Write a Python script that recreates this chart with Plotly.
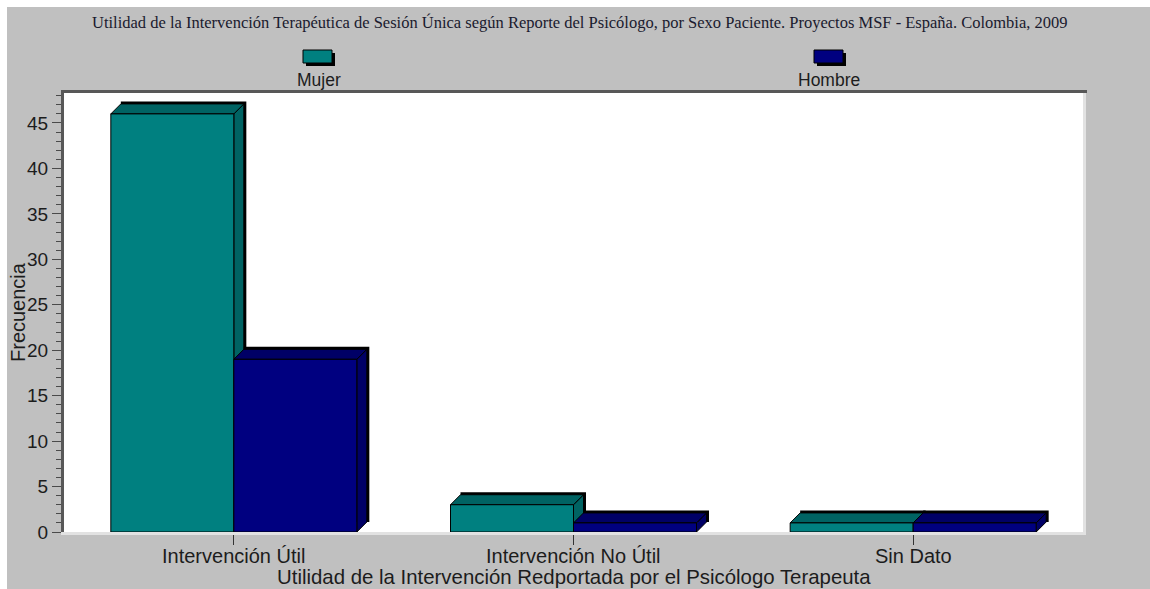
import plotly.graph_objects as go

# --- data -------------------------------------------------------------
categorias = ["Intervención Útil", "Intervención No Útil", "Sin Dato"]
series = ["Mujer", "Hombre"]
mujer = [46, 3, 1]
hombre = [19, 1, 1]
y_ticks = [0, 5, 10, 15, 20, 25, 30, 35, 40, 45]

titulo = ("Utilidad de la Intervención Terapéutica de Sesión Única según Reporte del "
          "Psicólogo, por Sexo Paciente. Proyectos MSF - España. Colombia, 2009")
titulo_x = "Utilidad de la Intervención Redportada por el Psicólogo Terapeuta"
titulo_y = "Frecuencia"

# --- geometry / style -------------------------------------------------
W, H = 1150, 589
M = dict(l=64, r=67, t=93, b=57)
plot_w = W - M["l"] - M["r"]
plot_h = H - M["t"] - M["b"]
y_max = 48.3
x_min, x_max = -0.5, 2.5
ux = plot_w / (x_max - x_min)   # px per x unit
uy = plot_h / y_max             # px per y unit

bar_w = 123 / ux
dx, dy = 10 / ux, 10 / uy       # 3-D depth
sx, sy = 2.5 / ux, 2.5 / uy     # black back edge

BG = "#c0c0c0"
TXT = "#1c1c1c"
FONT = "Liberation Sans, Arial, sans-serif"
colores = {"Mujer": ("#008080", "#006363"), "Hombre": ("#000080", "#000066")}
offsets = {"Mujer": -bar_w, "Hombre": 0.0}
valores = {"Mujer": mujer, "Hombre": hombre}


def px_x(p):
    return (p - M["l"]) / plot_w


def px_y(p):
    return (H - M["b"] - p) / plot_h


fig = go.Figure()

# front faces of the bars
for s in series:
    fig.add_trace(go.Bar(
        x=list(range(len(categorias))), y=valores[s], name=s,
        width=bar_w, offset=offsets[s],
        marker=dict(color=colores[s][0], line=dict(color="#000000", width=1)),
        showlegend=False,
    ))

# depth: back edge, side face and top face, drawn below the front faces
shapes = []
for i in range(len(categorias)):
    for s in series:
        v = valores[s][i]
        x0 = i + offsets[s]
        x1 = x0 + bar_w
        dark = colores[s][1]
        shapes.append(dict(type="rect", xref="x", yref="y", layer="below",
                           x0=x0 + dx, x1=x1 + dx + sx, y0=dy, y1=v + dy + sy,
                           fillcolor="#000000", line=dict(width=0)))
        side = f"M {x1},0 L {x1 + dx},{dy} L {x1 + dx},{v + dy} L {x1},{v} Z"
        top = f"M {x0},{v} L {x0 + dx},{v + dy} L {x1 + dx},{v + dy} L {x1},{v} Z"
        for p in (side, top):
            shapes.append(dict(type="path", xref="x", yref="y", layer="below", path=p,
                               fillcolor=dark, line=dict(color="#000000", width=1)))

# white strips on the top and left edge of the page
shapes.append(dict(type="rect", xref="paper", yref="paper", layer="below",
                   x0=px_x(0), x1=px_x(W), y0=px_y(7), y1=px_y(0),
                   fillcolor="#ffffff", line=dict(width=0)))
shapes.append(dict(type="rect", xref="paper", yref="paper", layer="below",
                   x0=px_x(0), x1=px_x(7), y0=px_y(H), y1=px_y(0),
                   fillcolor="#ffffff", line=dict(width=0)))

# sunken frame around the plot area (left side is the y axis line)
shapes.append(dict(type="line", xref="paper", yref="paper",
                   x0=px_x(61), x1=px_x(1087), y0=px_y(91.5), y1=px_y(91.5),
                   line=dict(color="#585858", width=3)))
shapes.append(dict(type="line", xref="paper", yref="paper",
                   x0=px_x(1084.5), x1=px_x(1084.5), y0=px_y(535), y1=px_y(93),
                   line=dict(color="#e2e2e2", width=3)))

# legend swatches and labels
leyenda = {"Mujer": (303, 319), "Hombre": (814, 829)}
annotations = []
for s in series:
    x_sw, x_lab = leyenda[s]
    shapes.append(dict(type="rect", xref="paper", yref="paper",
                       x0=px_x(x_sw + 3), x1=px_x(x_sw + 32), y0=px_y(66), y1=px_y(53),
                       fillcolor="#000000", line=dict(width=0)))
    shapes.append(dict(type="rect", xref="paper", yref="paper",
                       x0=px_x(x_sw), x1=px_x(x_sw + 29), y0=px_y(63), y1=px_y(50),
                       fillcolor=colores[s][0], line=dict(color="#000000", width=1)))
    annotations.append(dict(text=s, xref="paper", yref="paper", x=px_x(x_lab), y=px_y(80),
                            xanchor="center", yanchor="middle", showarrow=False,
                            font=dict(family=FONT, size=17.5, color=TXT)))

# category labels under the ticks
for i, c in enumerate(categorias):
    annotations.append(dict(text=c, xref="x", yref="paper", x=i, y=px_y(556),
                            xanchor="center", yanchor="middle", showarrow=False,
                            font=dict(family=FONT, size=20, color=TXT)))

annotations.append(dict(text=titulo, xref="paper", yref="paper", x=px_x(580), y=px_y(22),
                        xanchor="center", yanchor="middle", showarrow=False,
                        font=dict(family="Liberation Serif, Times New Roman, serif",
                                  size=16.5, color="#1a1a2e")))
annotations.append(dict(text=titulo_x, xref="paper", yref="paper", x=px_x(574), y=px_y(577),
                        xanchor="center", yanchor="middle", showarrow=False,
                        font=dict(family=FONT, size=20.4, color=TXT)))
annotations.append(dict(text=titulo_y, xref="paper", yref="paper", x=px_x(18), y=px_y(312),
                        xanchor="center", yanchor="middle", showarrow=False, textangle=-90,
                        font=dict(family=FONT, size=20, color=TXT)))

fig.update_layout(
    width=W, height=H, margin=dict(**M, pad=0, autoexpand=False),
    paper_bgcolor=BG, plot_bgcolor="#ffffff",
    barmode="overlay", showlegend=False,
    shapes=shapes, annotations=annotations,
    xaxis=dict(range=[x_min, x_max], tickmode="array",
               tickvals=list(range(len(categorias))), showticklabels=False,
               showgrid=False, zeroline=False,
               showline=True, linecolor="#e2e2e2", linewidth=3,
               ticks="outside", ticklen=10, tickwidth=1, tickcolor="#333333",
               fixedrange=True),
    yaxis=dict(range=[0, y_max], tickmode="array", tickvals=y_ticks,
               showgrid=False, zeroline=False,
               showline=True, linecolor="#585858", linewidth=3,
               ticks="outside", ticklen=9, tickwidth=1, tickcolor="#4a4a4a",
               minor=dict(dtick=1, ticks="outside", ticklen=5, tickwidth=1,
                          tickcolor="#4a4a4a", showgrid=False),
               tickfont=dict(family=FONT, size=19, color=TXT), fixedrange=True),
)

fig.write_html("out.html")
